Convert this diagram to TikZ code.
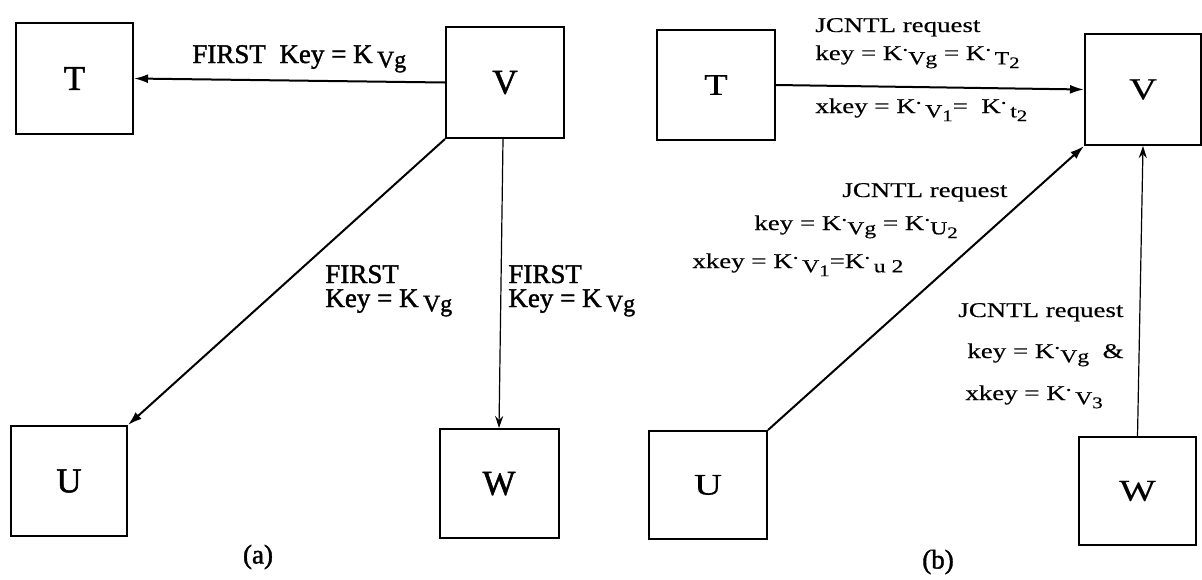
\documentclass[tikz,border=0pt]{standalone}
\usepackage{fontspec}
\usepackage{graphicx}
\setmainfont{Liberation Serif}
\newfontfamily\heavyserif[FakeBold=1.5]{Liberation Serif}
\newfontfamily\wideserif[FakeStretch=1.28,FakeBold=0.4]{Liberation Serif}
\usetikzlibrary{arrows.meta}
\newcommand\kd{K\raisebox{0.95ex}{\scalebox{0.9}{.}}}
\newcommand\lsub[2][0.45ex]{\raisebox{-#1}{\scalebox{0.88}{#2}}}
\begin{document}
\begin{tikzpicture}[x=0.5pt,y=-0.5pt]
\tikzset{
 box/.style={draw, line width=1pt, inner sep=0pt},
 boxa/.style={box, font=\heavyserif\fontsize{17.5}{17.5}\selectfont},
 boxb/.style={box, font=\wideserif\fontsize{15}{15}\selectfont},
 conn/.style={line width=1pt, -{Latex[length=7pt,width=4.5pt]}},
 thinconn/.style={line width=0.6pt, -{Stealth[length=6pt,width=4pt]}},
 lbla/.style={inner sep=0pt, anchor=base west, font=\heavyserif\fontsize{13.5}{14}\selectfont},
 lblb/.style={inner sep=0pt, anchor=base west, font=\wideserif\fontsize{10.5}{11}\selectfont},
 capt/.style={inner sep=0pt, font=\heavyserif\fontsize{13.5}{13.5}\selectfont},
}
\useasboundingbox (0,0) rectangle (1202,579);
% (a)
\node[boxa, minimum width=58.5pt, minimum height=55.5pt] (aT) at (74.5,78.5) {T};
\node[boxa, minimum width=59pt, minimum height=55.5pt] (aV) at (505,82.5) {V};
\node[boxa, minimum width=58pt, minimum height=55pt] (aU) at (69,481) {U};
\node[boxa, minimum width=59.5pt, minimum height=54.5pt] (aW) at (499,483.5) {W};
\draw[conn] (aV.west) -- (aT.east);
\draw[conn] (aV.south west) -- (aU.north east);
\draw[thinconn] ([xshift=-1pt]aV.south) -- (aW.north);
\node[lbla] (la1) at (192,63) {FIRST\ \ Key = K\,\lsub[0.35ex]{Vg}};
\node[lbla] (la2) at (325,283) {FIRST};
\node[lbla] (la3) at (325,307) {Key = K\,\lsub[0.35ex]{Vg}};
\node[lbla] (la4) at (508,283) {FIRST};
\node[lbla] (la5) at (508,307) {Key = K\,\lsub[0.35ex]{Vg}};
\node[capt] (capa) at (258,557) {(a)};
% (b)
\node[boxb, minimum width=59pt, minimum height=55pt] (bT) at (716,85) {T};
\node[boxb, minimum width=58pt, minimum height=55.5pt] (bV) at (1143,89.5) {V};
\node[boxb, minimum width=59pt, minimum height=54pt] (bU) at (708,485) {U};
\node[boxb, minimum width=58.5pt, minimum height=54pt] (bW) at (1137.5,491) {W};
\draw[conn] (bT.east) -- (bV.west);
\draw[conn] (bU.north east) -- (bV.south west);
\draw[thinconn] (bW.north) -- (bV.south);
\node[lblb] (lb1) at (815,32) {JCNTL request};
\node[lblb] (lb2) at (815,60) {key = \kd\lsub{Vg} = \kd\,\lsub{T\lsub{2}}};
\node[lblb] (lb3) at (815,113) {xkey = \kd\,\lsub{V\lsub{1}}=\ \ \kd\,\lsub{t\lsub{2}}};
\node[lblb] (lb4) at (842,197) {JCNTL request};
\node[lblb] (lb5) at (754,230) {key = \kd\lsub{Vg} = \kd\lsub{U\lsub{2}}};
\node[lblb] (lb6) at (692,268) {xkey = \kd\,\lsub{V\lsub{1}}=\kd\,\lsub{u\ 2}};
\node[lblb] (lb7) at (958,317) {JCNTL request};
\node[lblb] (lb8) at (967,358) {key = \kd\lsub{Vg} \ \&};
\node[lblb] (lb9) at (965,400) {xkey = \kd\,\lsub{V\lsub{3}}};
\node[capt] (capb) at (938,562) {(b)};
\end{tikzpicture}
\end{document}
